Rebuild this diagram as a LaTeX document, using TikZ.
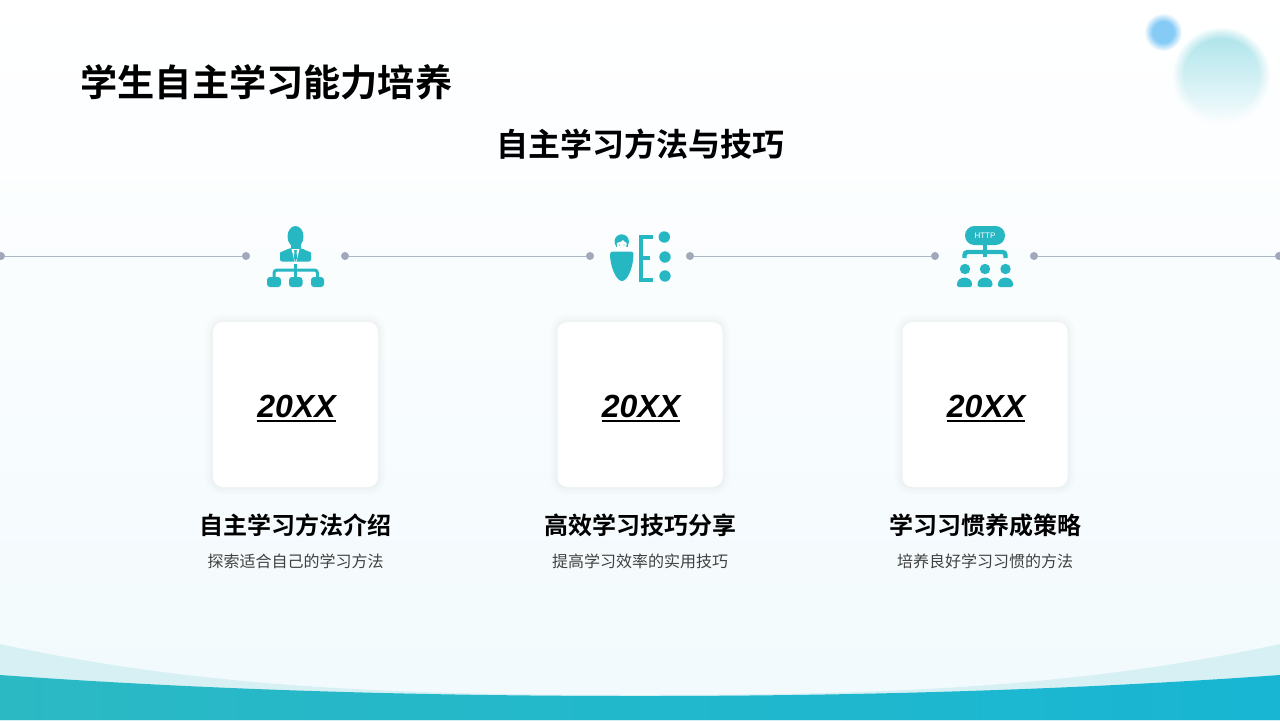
\documentclass[tikz,border=0pt]{standalone}
\usepackage{fontspec}
\setmainfont{Liberation Sans}
\newfontfamily\cjk[BoldFont={Noto Sans CJK SC Bold}]{Noto Sans CJK SC}
\usetikzlibrary{fadings}
\definecolor{teal1}{HTML}{26B7C3}
\definecolor{wavelight}{HTML}{D6F0F4}
\definecolor{waveleft}{HTML}{2BB9C4}
\definecolor{waveright}{HTML}{18B6D3}
\definecolor{dotgray}{HTML}{A0A8BA}
\definecolor{linegray}{HTML}{AEB7C6}
\definecolor{paleback}{HTML}{F2FAFD}
\definecolor{subgray}{HTML}{404040}
\definecolor{disctop}{HTML}{A8E2E9}
\definecolor{discmid}{HTML}{CDEEF2}
\definecolor{discend}{HTML}{F8FDFE}
\definecolor{discblue}{HTML}{86CBF6}
\pgfdeclareradialshading{softbig}{\pgfpoint{0bp}{0bp}}{color(0bp)=(pgftransparent!0); color(19bp)=(pgftransparent!0); color(25bp)=(pgftransparent!100); color(50bp)=(pgftransparent!100)}
\pgfdeclareradialshading{softsmall}{\pgfpoint{0bp}{0bp}}{color(0bp)=(pgftransparent!0); color(14bp)=(pgftransparent!0); color(25bp)=(pgftransparent!100); color(50bp)=(pgftransparent!100)}
\pgfdeclarefading{softedgebig}{\pgfuseshading{softbig}}
\pgfdeclarefading{softedgesmall}{\pgfuseshading{softsmall}}
\newcommand{\yeartext}{\setbox0\hbox{20XX}\hskip1pt\rlap{\rule[-2.5pt]{\wd0}{1.2pt}}\box0}
\tikzset{
  dotnode/.style={circle,fill=dotgray,minimum size=4pt,inner sep=0pt},
  linkline/.style={draw=linegray,line width=0.5pt},
  cardbox/.style={rectangle,rounded corners=5pt,fill=white,minimum size=82.5pt,inner sep=0pt,
    text height=15pt,font=\bfseries\itshape\fontsize{16}{16}\selectfont,
    preaction={draw=black,draw opacity=0.006,line width=8pt},
    preaction={draw=black,draw opacity=0.008,line width=6pt},
    preaction={draw=black,draw opacity=0.01,line width=4pt},
    preaction={draw=black,draw opacity=0.012,line width=2pt}},
  headtext/.style={font=\cjk\bfseries\fontsize{12}{12}\selectfont,text=black,inner sep=0pt},
  subtext/.style={font=\cjk\fontsize{8}{8}\selectfont,text=subgray,inner sep=0pt},
  iconfill/.style={fill=teal1,draw=none},
  iconbar/.style={draw=teal1,line width=1.5pt,rounded corners=1.5pt},
  busbar/.style={draw=teal1,line width=2.2pt,rounded corners=1.5pt}
}
\begin{document}
\begin{tikzpicture}[x=0.5pt,y=-0.5pt]
      \useasboundingbox (0,0) rectangle (1280,720);
      \shade[top color=white,bottom color=paleback] (0,0) rectangle (1280,720);

      \shade[top color=disctop,middle color=discmid,bottom color=discend,path fading=softedgebig] (1221,76) circle (49);
      \fill[discblue,path fading=softedgesmall] (1163,32) circle (19);

      \fill[wavelight] (0,644) .. controls (210,690) and (420,695) .. (640,695)
        .. controls (860,695) and (1070,690) .. (1280,644) -- (1280,720) -- (0,720) -- cycle;
      \shade[left color=waveleft,right color=waveright] (0,675) .. controls (210,690) and (420,696) .. (640,696)
        .. controls (860,696) and (1070,690) .. (1280,675) -- (1280,720) -- (0,720) -- cycle;

      \node[anchor=west,inner sep=0pt,font=\cjk\bfseries\fontsize{18.6}{18.6}\selectfont] (title) at (80,82) {学生自主学习能力培养};
      \node[inner sep=0pt,font=\cjk\bfseries\fontsize{16}{16}\selectfont] (subtitle) at (640,144) {自主学习方法与技巧};

      \node[dotnode] (dot0) at (1,256) {};
      \node[dotnode] (dot1) at (246,256) {};
      \node[dotnode] (dot2) at (345,256) {};
      \node[dotnode] (dot3) at (590,256) {};
      \node[dotnode] (dot4) at (690,256) {};
      \node[dotnode] (dot5) at (935,256) {};
      \node[dotnode] (dot6) at (1034,256) {};
      \node[dotnode] (dot7) at (1279,256) {};
      \begin{scope}[linkline]
        \draw (dot0) to (dot1);
        \draw (dot2) to (dot3);
        \draw (dot4) to (dot5);
        \draw (dot6) to (dot7);
      \end{scope}

      \fill[iconfill] (295.5,236.5) ellipse (8 and 10.5);
      \fill[iconfill] (290.5,242) rectangle (300.5,250);
      \fill[iconfill,rounded corners=1pt] (280,261.5) -- (280,255) .. controls (280,252) and (284,251) .. (290,248)
        -- (301,248) .. controls (307,251) and (311,252) .. (311,255) -- (311,261.5) -- cycle;
      \fill[white] (291.5,249) -- (299.5,249) -- (296.5,261.5) -- (294.5,261.5) -- cycle;
      \fill[iconfill] (294,250) -- (297,250) -- (296.5,252.5) -- (297.2,258) -- (295.5,261.5) -- (293.8,258) -- (294.5,252.5) -- cycle;
      \draw[iconbar] (295.5,264) -- (295.5,278);
      \draw[iconbar] (274,278) -- (274,270) -- (317.5,270) -- (317.5,278);
      \fill[iconfill,rounded corners=1.5pt] (267,277) rectangle (281,287);
      \fill[iconfill,rounded corners=1.5pt] (289,277) rectangle (302.5,287);
      \fill[iconfill,rounded corners=1.5pt] (311,277) rectangle (324,287);

      \fill[iconfill] (610,254) .. controls (610,252) and (612,251.5) .. (614,251.5) -- (630,251.5)
        .. controls (632,251.5) and (633.5,252) .. (633.5,254)
        .. controls (633.5,266) and (628,281) .. (622,281)
        .. controls (616,281) and (610,266) .. (610,254) -- cycle;
      \fill[iconfill] (621.7,241.5) circle (7.2);
      \fill[iconfill] (615.5,241) rectangle (628,247);
      \fill[white] (616.8,243) .. controls (620,242.5) and (622,241.5) .. (623,240)
        .. controls (624,241.5) and (625.5,242.5) .. (626.6,243)
        .. controls (627,248) and (624.5,251) .. (621.7,251)
        .. controls (619,251) and (616.5,248) .. (616.8,243) -- cycle;
      \fill[iconfill] (619.5,245) circle (0.7);
      \fill[iconfill] (624,245) circle (0.7);
      \draw[draw=teal1,line width=2pt] (652.5,236.5) -- (641.3,236.5) -- (641.3,279.5) -- (652.5,279.5);
      \draw[draw=teal1,line width=2pt] (641,257.5) -- (650,257.5);
      \fill[iconfill] (664.3,237) circle (5.7);
      \fill[iconfill] (665,257) circle (5.7);
      \fill[iconfill] (665,276) circle (5.7);

      \node[rectangle,rounded corners=4.7pt,fill=teal1,minimum width=20pt,minimum height=9.5pt,inner sep=0pt,
        text=white,font=\fontsize{4}{4}\selectfont] (http) at (985,235.5) {HTTP};
      \draw[busbar] (985,245) -- (985,257);
      \draw[busbar] (964.5,258) -- (964.5,252) -- (1005.5,252) -- (1005.5,258);
      \fill[iconfill] (965,269) circle (5.2);
      \fill[iconfill] (985,269) circle (5.2);
      \fill[iconfill] (1005.5,269) circle (5.2);
      \fill[iconfill] (959,287) .. controls (957,287) and (957,285) .. (957,284) .. controls (957,280) and (961,277.5) .. (964.5,277.5)
        .. controls (968,277.5) and (972,280) .. (972,284) .. controls (972,285) and (972,287) .. (970,287) -- cycle;
      \fill[iconfill] (979.5,287) .. controls (977.5,287) and (977.5,285) .. (977.5,284) .. controls (977.5,280) and (981.5,277.5) .. (985,277.5)
        .. controls (988.5,277.5) and (992.5,280) .. (992.5,284) .. controls (992.5,285) and (992.5,287) .. (990.5,287) -- cycle;
      \fill[iconfill] (1000,287) .. controls (998,287) and (998,285) .. (998,284) .. controls (998,280) and (1002,277.5) .. (1005.5,277.5)
        .. controls (1009,277.5) and (1013,280) .. (1013,284) .. controls (1013,285) and (1013,287) .. (1011,287) -- cycle;

      \node[cardbox] (card1) at (295.5,404.5) {\yeartext};
      \node[cardbox] (card2) at (640,404.5) {\yeartext};
      \node[cardbox] (card3) at (985,404.5) {\yeartext};

      \node[headtext] (head1) at (295.5,525) {自主学习方法介绍};
      \node[headtext] (head2) at (640,525) {高效学习技巧分享};
      \node[headtext] (head3) at (985,525) {学习习惯养成策略};
      \node[subtext] (sub1) at (295.5,561) {探索适合自己的学习方法};
      \node[subtext] (sub2) at (640,561) {提高学习效率的实用技巧};
      \node[subtext] (sub3) at (985,561) {培养良好学习习惯的方法};
    \end{tikzpicture}
\end{document}
